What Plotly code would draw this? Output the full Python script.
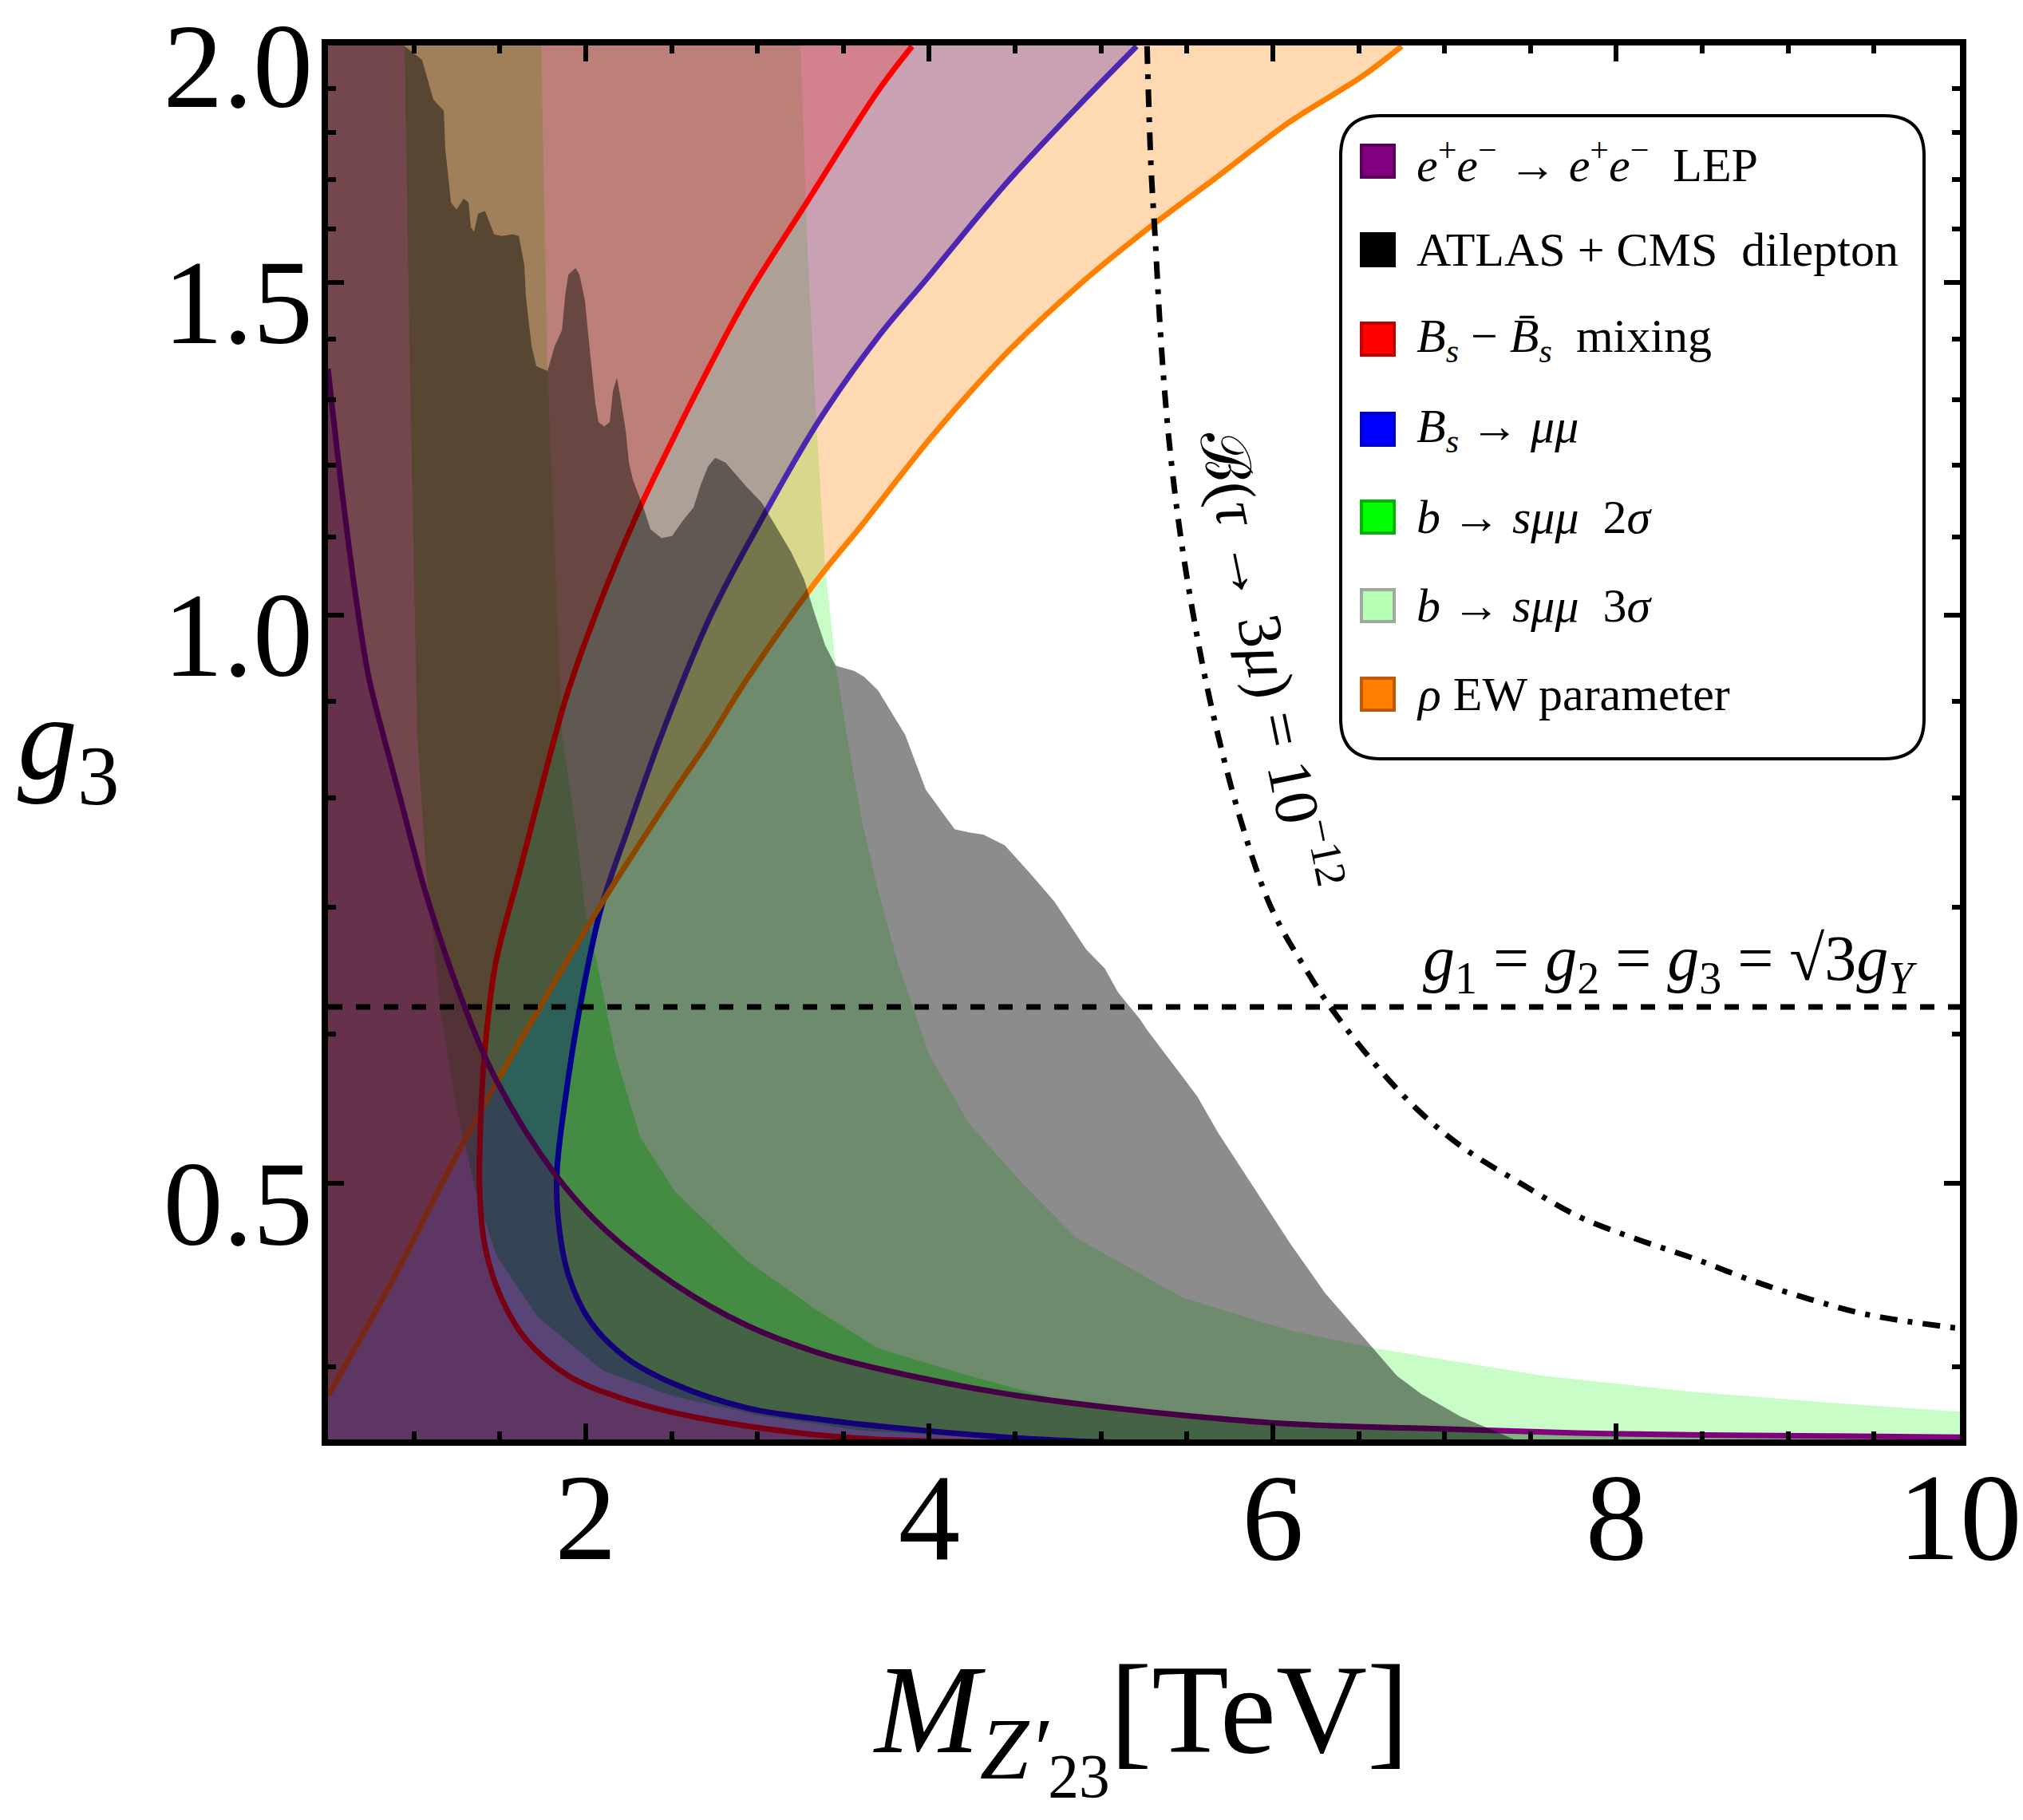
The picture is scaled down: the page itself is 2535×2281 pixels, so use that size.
import math
import plotly.graph_objects as go

# ---------------- axis extents ----------------
M_RANGE = [0.5, 10.0]          # M_Z'23 in TeV
G_RANGE = [0.366, 2.0]         # g3 (log axis)

# ---------------- constraint boundaries (M in TeV, g3) ----------------
# B_s - B_s-bar mixing (excluded to the left of the curve)
m_bsmix = [3.90, 3.702, 3.270, 2.940, 2.689, 2.480, 2.317, 2.108, 1.899, 1.824, 1.615, 1.476,
           1.411, 1.388, 1.383, 1.415, 1.508, 1.652, 1.899, 2.210, 2.521, 2.940, 3.353, 3.702,
           4.5, 5.5]
g_bsmix = [2.0, 1.894, 1.644, 1.474, 1.336, 1.224, 1.140, 1.028, 0.912, 0.864, 0.731, 0.654,
           0.585, 0.538, 0.495, 0.4625, 0.435, 0.4135, 0.3955, 0.3848, 0.378, 0.372, 0.368, 0.366,
           0.3645, 0.363]

# B_s -> mu mu (excluded to the left of the curve)
m_bsmumu = [5.207, 4.854, 4.440, 3.985, 3.702, 3.353, 3.042, 2.730, 2.442, 2.252, 2.089, 1.964,
            1.880, 1.834, 1.838, 1.899, 2.024, 2.233, 2.521, 2.940, 3.353, 3.702, 4.440, 4.956,
            5.6, 6.5]
g_bsmumu = [2.0, 1.854, 1.689, 1.506, 1.403, 1.265, 1.131, 1.0, 0.864, 0.773, 0.699, 0.618,
            0.553, 0.509, 0.481, 0.4474, 0.423, 0.4045, 0.3914, 0.3803, 0.3752, 0.372, 0.367, 0.365,
            0.3635, 0.362]

# rho EW parameter (excluded above the curve)
m_rho = [0.5, 0.862, 1.276, 1.694, 2.108, 2.521, 2.712, 2.940, 3.353, 3.609, 4.022, 4.440,
         4.854, 5.268, 5.681, 6.099, 6.513, 6.75]
g_rho = [0.386, 0.442, 0.523, 0.611, 0.707, 0.808, 0.857, 0.925, 1.045, 1.116, 1.245, 1.373,
         1.49, 1.60, 1.707, 1.824, 1.926, 2.0]

# e+e- -> e+e- at LEP (excluded below the curve)
m_lep = [0.5, 0.574, 0.658, 0.737, 0.821, 0.928, 1.072, 1.281, 1.485, 1.820, 2.108, 2.521,
         2.940, 3.353, 3.702, 4.440, 5.268, 6.099, 6.862, 8.0, 9.28, 10.0]
g_lep = [1.35, 1.178, 1.028, 0.927, 0.864, 0.795, 0.711, 0.625, 0.566, 0.506, 0.473, 0.442,
         0.4205, 0.4068, 0.399, 0.387, 0.3786, 0.373, 0.371, 0.3685, 0.3675, 0.367]

# b -> s mu mu bands: common lower edge, 2 sigma and 3 sigma upper edges
m_bsll_low = [0.946, 0.979, 1.020, 1.072, 1.155, 1.239, 1.360, 1.48, 1.72, 2.1, 2.5, 3.0, 3.6, 4.5]
g_bsll_low = [2.0, 1.314, 0.864, 0.731, 0.618, 0.553, 0.495, 0.458, 0.425, 0.398, 0.386, 0.377, 0.370, 0.366]

m_bsll_2s = [1.741, 1.778, 1.862, 1.941, 1.996, 2.066, 2.173, 2.317, 2.521, 2.940, 3.353, 3.702,
             4.231, 4.8, 5.5, 6.5, 8.0, 10.0]
g_bsll_2s = [2.0, 1.344, 0.864, 0.773, 0.699, 0.654, 0.585, 0.529, 0.495, 0.455, 0.428, 0.409,
             0.3955, 0.383, 0.377, 0.372, 0.368, 0.366]

m_bsll_3s = [3.251, 3.293, 3.344, 3.395, 3.455, 3.520, 3.609, 3.702, 3.818, 4.0, 4.231, 4.543,
             4.854, 5.477, 6.099, 6.597, 7.577, 8.428, 9.28, 10.0]
g_bsll_3s = [2.0, 1.548, 1.258, 1.057, 0.942, 0.864, 0.777, 0.715, 0.654, 0.585, 0.538, 0.50,
             0.468, 0.435, 0.418, 0.409, 0.3955, 0.388, 0.3826, 0.3786]

# ATLAS + CMS dilepton limit (excluded to the left / below)
m_atlas = [0.946, 1.048, 1.113, 1.174, 1.183, 1.216, 1.248, 1.290, 1.318, 1.332, 1.350, 1.374,
           1.415, 1.467, 1.508, 1.578, 1.611, 1.643, 1.652, 1.685, 1.713, 1.778, 1.820, 1.862,
           1.880, 1.899, 1.941, 1.964, 1.996, 2.024, 2.057, 2.075, 2.108, 2.140, 2.159, 2.182,
           2.201, 2.233, 2.252, 2.275, 2.336, 2.377, 2.442, 2.503, 2.563, 2.628, 2.670, 2.712,
           2.754, 2.814, 2.940, 3.023, 3.102, 3.195, 3.270, 3.335, 3.395, 3.455, 3.562, 3.623,
           3.702, 3.860, 3.980, 4.148, 4.231, 4.315, 4.440, 4.603, 4.729, 4.914, 5.021, 5.100,
           5.226, 5.268, 5.477, 5.560, 5.681, 5.890, 6.099, 6.304, 6.513, 6.722, 6.862, 7.094, 7.405]
g_atlas = [2.0, 1.967, 1.874, 1.849, 1.764, 1.653, 1.639, 1.661, 1.653, 1.604, 1.595, 1.631,
           1.636, 1.590, 1.587, 1.590, 1.587, 1.531, 1.474, 1.388, 1.354, 1.346, 1.388, 1.415,
           1.474, 1.514, 1.526, 1.514, 1.466, 1.381, 1.293, 1.265, 1.258, 1.265, 1.314, 1.335,
           1.306, 1.252, 1.204, 1.179, 1.140, 1.110, 1.098, 1.101, 1.121, 1.140, 1.172, 1.198,
           1.211, 1.204, 1.168, 1.147, 1.116, 1.080, 1.045, 1.0, 0.963, 0.940, 0.934, 0.927,
           0.912, 0.864, 0.808, 0.770, 0.767, 0.765, 0.755, 0.727, 0.705, 0.665, 0.650, 0.631,
           0.611, 0.603, 0.569, 0.556, 0.532, 0.4975, 0.465, 0.4375, 0.416, 0.3955, 0.387, 0.3763, 0.366]

# B(tau -> 3 mu) = 1e-12 contour
m_tau = [5.268, 5.291, 5.314, 5.351, 5.393, 5.454, 5.537, 5.639, 5.807, 5.993, 6.202, 6.346,
         6.597, 6.843, 7.112, 7.452, 7.786, 8.125, 8.460, 8.795, 9.134, 9.468, 10.0]
g_tau = [2.0, 1.727, 1.590, 1.388, 1.245, 1.116, 1.0, 0.897, 0.782, 0.699, 0.647, 0.618,
         0.578, 0.547, 0.522, 0.4995, 0.480, 0.467, 0.456, 0.444, 0.434, 0.426, 0.419]

# unified coupling g1 = g2 = g3 = sqrt(3) gY
G_UNIFIED = 0.62

# tick labels
x_ticks = [2, 4, 6, 8, 10]
y_ticks = [0.5, 1.0, 1.5, 2.0]
y_tick_text = ["0.5", "1.0", "1.5", "2.0"]
y_minor = [0.4, 0.6, 0.7, 0.8, 0.9, 1.1, 1.2, 1.3, 1.4, 1.6, 1.7, 1.8, 1.9]

# legend entries: label, swatch fill, swatch border
legend_items = [
    ("<i>e</i><sup>+</sup><i>e</i><sup>−</sup> → <i>e</i><sup>+</sup><i>e</i><sup>−</sup>\u00a0\u00a0LEP", "#800080", "#5a005a"),
    ("ATLAS + CMS\u00a0\u00a0dilepton", "#000000", "#000000"),
    ("<i>B<sub>s</sub></i> − <i>B\u0304<sub>s</sub></i>\u00a0\u00a0mixing", "#ff0000", "#c00000"),
    ("<i>B<sub>s</sub></i> → <i>μμ</i>", "#0000ff", "#0000c8"),
    ("<i>b</i> → <i>sμμ</i>\u00a0\u00a02<i>σ</i>", "#00ff00", "#00b400"),
    ("<i>b</i> → <i>sμμ</i>\u00a0\u00a03<i>σ</i>", "#b4ffb4", "#a0a8a0"),
    ("<i>ρ</i> EW parameter", "#ff8000", "#c05a00"),
]

# ---------------- styling ----------------
SERIF = "Liberation Serif"
FILL_3S = "rgb(200,253,200)"
FILL_2S = "rgba(0,255,0,0.38)"
FILL_BSMUMU = "rgba(0,0,255,0.31)"
FILL_RHO = "rgba(255,128,0,0.30)"
FILL_BSMIX = "rgba(255,0,0,0.20)"
FILL_LEP = "rgba(128,0,128,0.29)"
FILL_ATLAS = "rgba(0,0,0,0.45)"

LO, HI = 0.34, 2.2      # closure values beyond the g3 range
XL, XR = 0.3, 10.3      # closure values beyond the mass range

W, H = 2535, 2281
ML, MR, MT, MB = 411, 79, 57, 477
PW, PH = W - ML - MR, H - MT - MB


def px(x):
    return (x - ML) / PW


def py(y):
    return (H - MB - y) / PH


fig = go.Figure()


def region(xs, ys, color):
    fig.add_trace(go.Scatter(x=xs, y=ys, mode="none", fill="toself", fillcolor=color,
                             hoverinfo="skip", showlegend=False))


def boundary(xs, ys, color, width=7, dash=None, smooth=True):
    fig.add_trace(go.Scatter(x=xs, y=ys, mode="lines",
                             line=dict(color=color, width=width, dash=dash,
                                       shape="spline" if smooth else "linear", smoothing=1.0),
                             hoverinfo="skip", showlegend=False))


# b -> s mu mu 3 sigma band
region([m_bsll_low[0]] + m_bsll_low + [m_bsll_low[-1], XR, XR] + m_bsll_3s[::-1] + [m_bsll_3s[0]],
       [HI] + g_bsll_low + [LO, LO, g_bsll_3s[-1]] + g_bsll_3s[::-1] + [HI], FILL_3S)
# b -> s mu mu 2 sigma band
region([m_bsll_low[0]] + m_bsll_low + [m_bsll_low[-1], XR, XR] + m_bsll_2s[::-1] + [m_bsll_2s[0]],
       [HI] + g_bsll_low + [LO, LO, g_bsll_2s[-1]] + g_bsll_2s[::-1] + [HI], FILL_2S)
# B_s -> mu mu
region([m_bsmumu[0]] + m_bsmumu + [m_bsmumu[-1], XL, XL],
       [HI] + g_bsmumu + [LO, LO, HI], FILL_BSMUMU)
boundary(m_bsmumu, g_bsmumu, "rgb(0,0,255)")
# rho parameter
region([XL] + m_rho + [m_rho[-1], XL], [g_rho[0]] + g_rho + [HI, HI], FILL_RHO)
boundary(m_rho, g_rho, "rgb(255,128,0)")
# B_s mixing
region([m_bsmix[0]] + m_bsmix + [m_bsmix[-1], XL, XL],
       [HI] + g_bsmix + [LO, LO, HI], FILL_BSMIX)
boundary(m_bsmix, g_bsmix, "rgb(255,0,0)")
# LEP
region([XL] + m_lep + [XR, XR, XL], [g_lep[0]] + g_lep + [g_lep[-1], LO, LO], FILL_LEP)
boundary(m_lep, g_lep, "rgb(128,0,128)")
# ATLAS + CMS
region([m_atlas[0]] + m_atlas + [m_atlas[-1], XL, XL],
       [HI] + g_atlas + [LO, LO, HI], FILL_ATLAS)

# reference contours
boundary([M_RANGE[0], M_RANGE[1]], [G_UNIFIED, G_UNIFIED], "black", width=7,
         dash="18px,17px", smooth=False)
boundary(m_tau, g_tau, "black", width=7, dash="22px,13px,6px,13px")

fig.update_layout(
    width=W, height=H,
    margin=dict(l=ML, r=MR, t=MT, b=MB, pad=0, autoexpand=False),
    paper_bgcolor="white", plot_bgcolor="white",
    showlegend=False,
    xaxis=dict(range=M_RANGE, showline=True, linewidth=8, linecolor="black", mirror="allticks",
               ticks="inside", ticklen=20, tickwidth=6, tickcolor="black",
               tickmode="array", tickvals=x_ticks, ticktext=[str(v) for v in x_ticks],
               tickfont=dict(family=SERIF, size=155, color="black"),
               ticklabelstandoff=-44, automargin=False,
               showgrid=False, zeroline=False,
               minor=dict(ticks="inside", ticklen=10, tickwidth=6, tickcolor="black",
                          tick0=0, dtick=0.5, showgrid=False)),
    yaxis=dict(type="log",
               range=[math.log10(G_RANGE[0]), math.log10(G_RANGE[1]) + 0.0004],
               showline=True, linewidth=8, linecolor="black", mirror="allticks",
               ticks="inside", ticklen=20, tickwidth=6, tickcolor="black",
               tickmode="array", tickvals=y_ticks, ticktext=y_tick_text,
               tickfont=dict(family=SERIF, size=150, color="black"),
               ticklabelstandoff=-19, ticklabelshift=24,
               ticklabeloverflow="allow", automargin=False,
               showgrid=False, zeroline=False,
               minor=dict(ticks="inside", ticklen=10, tickwidth=6, tickcolor="black",
                          tickmode="array", tickvals=y_minor, showgrid=False)),
)

# ---------------- legend box ----------------
L, R, T, B = px(1680), px(2411), py(145), py(951)
rx, ry = 50 / PW, 50 / PH
box_path = (f"M {L+rx},{T} L {R-rx},{T} Q {R},{T} {R},{T-ry} L {R},{B+ry} Q {R},{B} {R-rx},{B} "
            f"L {L+rx},{B} Q {L},{B} {L},{B+ry} L {L},{T-ry} Q {L},{T} {L+rx},{T} Z")
shapes = [dict(type="path", xref="paper", yref="paper", path=box_path,
               line=dict(color="black", width=4), fillcolor="white", layer="above")]
annotations = []
row_y = [202, 313, 425, 538, 648, 759, 870]
for (label, fill, edge), yc in zip(legend_items, row_y):
    shapes.append(dict(type="rect", xref="paper", yref="paper",
                       x0=px(1706), x1=px(1747), y0=py(yc + 20), y1=py(yc - 20),
                       fillcolor=fill, line=dict(color=edge, width=4), layer="above"))
    annotations.append(dict(xref="paper", yref="paper", x=px(1773), y=py(yc),
                            xanchor="left", yanchor="middle", showarrow=False, text=label,
                            font=dict(family=SERIF, size=60, color="black")))

# ---------------- text labels ----------------
annotations += [
    dict(xref="paper", yref="paper", x=px(1430), y=py(2162), xanchor="center", yanchor="middle",
         showarrow=False, text="<i>M</i><sub><i>Z′</i><sub>23</sub></sub>[TeV]",
         font=dict(family=SERIF, size=158, color="black")),
    dict(xref="paper", yref="paper", x=px(86), y=py(936), xanchor="center", yanchor="middle",
         showarrow=False, text="<i>g</i><sub>3</sub>",
         font=dict(family=SERIF, size=150, color="black")),
    dict(xref="paper", yref="paper", x=px(1594), y=py(826), xanchor="center", yanchor="middle",
         showarrow=False, textangle=78.5,
         text="ℬ(<i>τ</i> → 3<i>μ</i>) = 10<sup>−12</sup>",
         font=dict(family=SERIF, size=78, color="black")),
    dict(xref="paper", yref="paper", x=px(2405), y=py(1207), xanchor="right", yanchor="middle",
         showarrow=False,
         text="<i>g</i><sub>1</sub> = <i>g</i><sub>2</sub> = <i>g</i><sub>3</sub> = √3<i>g</i><sub><i>Y</i></sub>",
         font=dict(family=SERIF, size=80, color="black")),
]

fig.update_layout(shapes=shapes, annotations=annotations)
fig.write_html("out.html")
